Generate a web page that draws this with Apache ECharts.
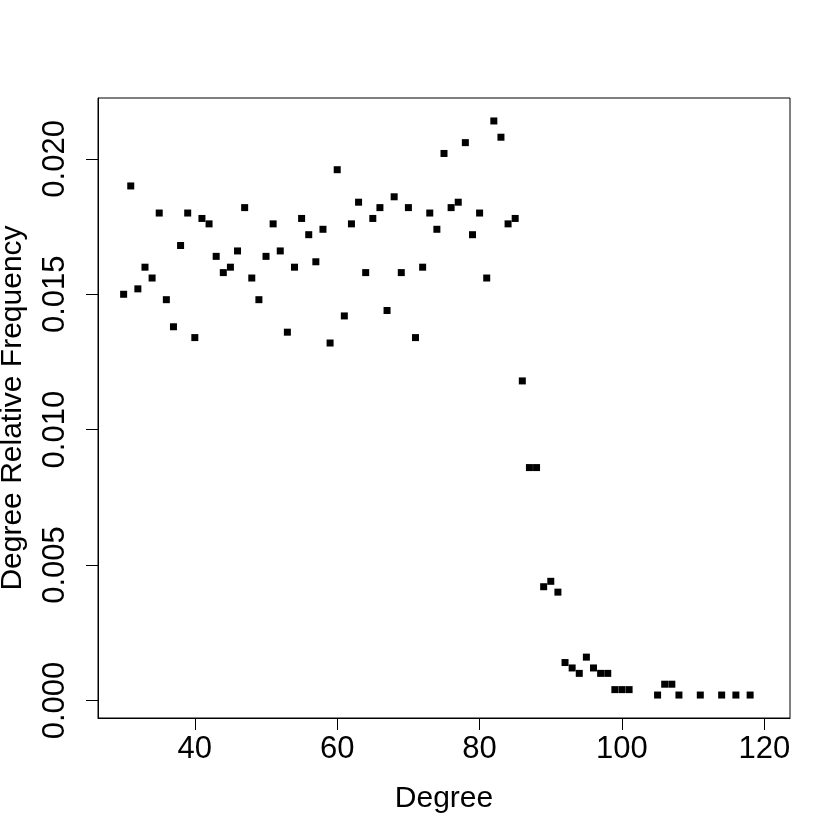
<!DOCTYPE html>
<html>
<head>
<meta charset="utf-8">
<script src="https://cdn.jsdelivr.net/npm/echarts@6/dist/echarts.min.js"></script>
<style>
  html, body { margin: 0; padding: 0; background: #fff; }
  #chart { width: 840px; height: 840px; }
</style>
</head>
<body>
<div id="chart"></div>
<script>
// degree values and their relative frequency
const degrees = [30, 31, 32, 33, 34, 35, 36, 37, 38, 39,
  40, 41, 42, 43, 44, 45, 46, 47, 48, 49,
  50, 51, 52, 53, 54, 55, 56, 57, 58, 59,
  60, 61, 62, 63, 64, 65, 66, 67, 68, 69,
  70, 71, 72, 73, 74, 75, 76, 77, 78, 79,
  80, 81, 82, 83, 84, 85, 86, 87, 88, 89,
  90, 91, 92, 93, 94, 95, 96, 97, 98, 99,
  100, 101, 105, 106, 107, 108, 111, 114, 116, 118];
const relFreq = [0.0150, 0.0190, 0.0152, 0.0160, 0.0156, 0.0180, 0.0148, 0.0138, 0.0168, 0.0180,
  0.0134, 0.0178, 0.0176, 0.0164, 0.0158, 0.0160, 0.0166, 0.0182, 0.0156, 0.0148,
  0.0164, 0.0176, 0.0166, 0.0136, 0.0160, 0.0178, 0.0172, 0.0162, 0.0174, 0.0132,
  0.0196, 0.0142, 0.0176, 0.0184, 0.0158, 0.0178, 0.0182, 0.0144, 0.0186, 0.0158,
  0.0182, 0.0134, 0.0160, 0.0180, 0.0174, 0.0202, 0.0182, 0.0184, 0.0206, 0.0172,
  0.0180, 0.0156, 0.0214, 0.0208, 0.0176, 0.0178, 0.0118, 0.0086, 0.0086, 0.0042,
  0.0044, 0.0040, 0.0014, 0.0012, 0.0010, 0.0016, 0.0012, 0.0010, 0.0010, 0.0004,
  0.0004, 0.0004, 0.0002, 0.0006, 0.0006, 0.0002, 0.0002, 0.0002, 0.0002, 0.0002];

const xTicks = [40, 60, 80, 100, 120];
const yTicks = [0, 0.005, 0.010, 0.015, 0.020];

const font = 'Liberation Sans, Arial, Helvetica, sans-serif';

let chart = echarts.init(document.getElementById('chart'), null, {renderer: 'canvas'});

let option = {
  animation: false,
  backgroundColor: '#fff',
  grid: {
    left: 98,
    right: 50,
    top: 98,
    bottom: 122,
    containLabel: false,
    outerBoundsMode: 'none',
    show: true,
    borderColor: '#000',
    borderWidth: 1
  },
  xAxis: {
    type: 'value',
    min: 26.4,
    max: 123.6,
    name: 'Degree',
    nameLocation: 'middle',
    nameGap: 66,
    nameTextStyle: { fontFamily: font, fontSize: 30, color: '#000' },
    axisLine: { show: true, onZero: false, lineStyle: { color: '#000', width: 1 } },
    axisTick: { show: true, length: 12, customValues: xTicks, lineStyle: { color: '#000', width: 1 } },
    axisLabel: {
      customValues: xTicks,
      margin: 16,
      fontFamily: font,
      fontSize: 31,
      color: '#000'
    },
    splitLine: { show: false }
  },
  yAxis: {
    type: 'value',
    min: -0.000648,
    max: 0.022248,
    name: 'Degree Relative Frequency',
    nameLocation: 'middle',
    nameGap: 70,
    nameRotate: 90,
    nameTextStyle: { fontFamily: font, fontSize: 30, color: '#000' },
    axisLine: { show: true, onZero: false, lineStyle: { color: '#000', width: 1 } },
    axisTick: { show: true, length: 12, customValues: yTicks, lineStyle: { color: '#000', width: 1 } },
    axisLabel: {
      customValues: yTicks,
      rotate: 90,
      margin: 27,
      fontFamily: font,
      fontSize: 31,
      color: '#000',
      formatter: function (v) { return v.toFixed(3); }
    },
    splitLine: { show: false }
  },
  series: [
    {
      type: 'scatter',
      symbol: 'rect',
      symbolSize: 7,
      itemStyle: { color: '#000', opacity: 1 },
      data: degrees.map(function (d, i) { return [d, relFreq[i]]; })
    }
  ]
};

chart.setOption(option);
</script>
</body>
</html>
